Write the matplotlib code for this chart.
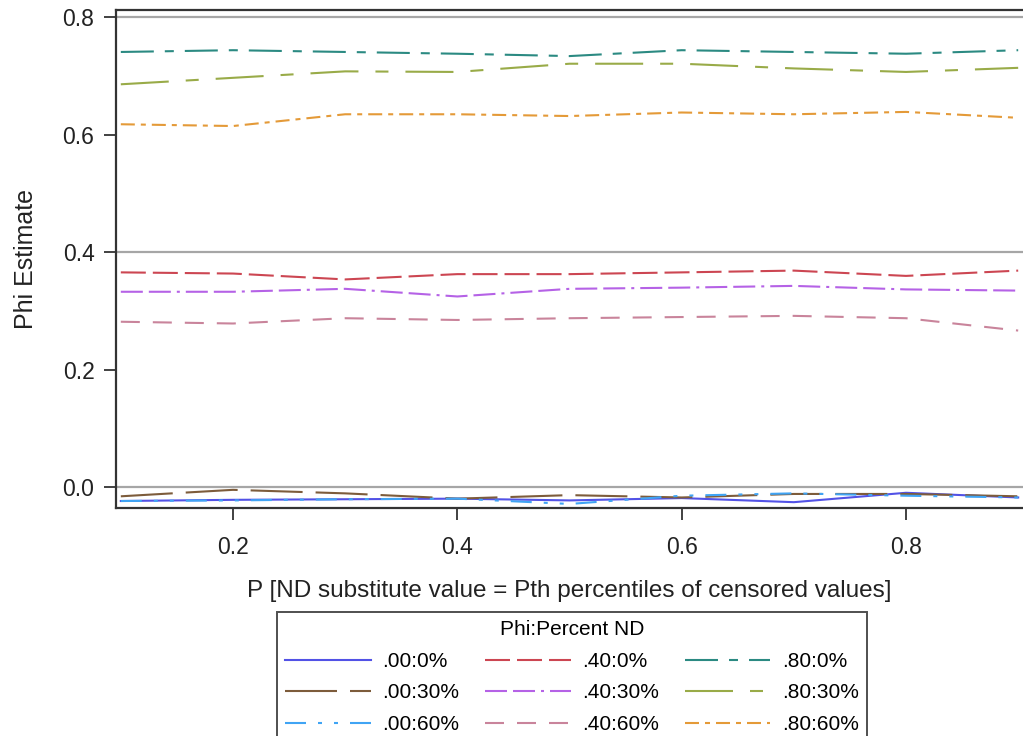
import matplotlib
matplotlib.use("Agg")
import matplotlib.pyplot as plt

plt.rcParams['font.family'] = ['Liberation Sans', 'DejaVu Sans']
plt.rcParams['lines.scale_dashes'] = False

p_values = [0.1, 0.2, 0.3, 0.4, 0.5, 0.6, 0.7, 0.8, 0.9]

phi00_nd0 = [-0.023, -0.021, -0.020, -0.019, -0.022, -0.018, -0.025, -0.009, -0.017]
phi00_nd30 = [-0.015, -0.004, -0.010, -0.019, -0.013, -0.017, -0.011, -0.011, -0.015]
phi00_nd60 = [-0.023, -0.022, -0.020, -0.019, -0.028, -0.014, -0.010, -0.014, -0.017]
phi40_nd0 = [0.366, 0.364, 0.354, 0.363, 0.363, 0.366, 0.369, 0.360, 0.369]
phi40_nd30 = [0.333, 0.333, 0.338, 0.325, 0.338, 0.340, 0.343, 0.337, 0.335]
phi40_nd60 = [0.282, 0.279, 0.288, 0.285, 0.288, 0.290, 0.292, 0.288, 0.267]
phi80_nd0 = [0.741, 0.744, 0.741, 0.738, 0.734, 0.744, 0.741, 0.738, 0.744]
phi80_nd30 = [0.686, 0.697, 0.708, 0.707, 0.721, 0.721, 0.713, 0.707, 0.714]
phi80_nd60 = [0.618, 0.615, 0.635, 0.635, 0.632, 0.638, 0.635, 0.639, 0.629]

series_labels = ['.00:0%', '.00:30%', '.00:60%', '.40:0%', '.40:30%', '.40:60%',
                 '.80:0%', '.80:30%', '.80:60%']
series_values = [phi00_nd0, phi00_nd30, phi00_nd60, phi40_nd0, phi40_nd30, phi40_nd60,
                 phi80_nd0, phi80_nd30, phi80_nd60]

y_ticks = [0.0, 0.2, 0.4, 0.6, 0.8]
x_ticks = [0.2, 0.4, 0.6, 0.8]
ref_lines = [0.0, 0.4, 0.8]

colors = ['#5252e6', '#7d5c3b', '#40a4f4', '#cc4652', '#b562e6', '#c9849b',
          '#2b8a82', '#99ab48', '#e49a38']
k = 0.72  # px -> pt
styles = [
    '-',
    (0, (52 * k, 13 * k)),
    (0, (21 * k, 12 * k, 4 * k, 12 * k, 4 * k, 12 * k)),
    (0, (25 * k, 7 * k)),
    (0, (22 * k, 6 * k, 22 * k, 6 * k, 3 * k, 6 * k)),
    (0, (19 * k, 13 * k)),
    (0, (33 * k, 11 * k, 9 * k, 11 * k)),
    (0, (48 * k, 17 * k, 13 * k, 17 * k)),
    (0, (14 * k, 6 * k, 5 * k, 6 * k)),
]

fig = plt.figure(figsize=(10.23, 7.36), dpi=100)
ax = fig.add_axes([116 / 1023, (736 - 508) / 736, 1 - 116 / 1023, 498 / 736])

for yv in ref_lines:
    ax.axhline(yv, color='#a6a6a6', lw=1.6, zorder=1)

handles = []
for lab, vals, c, ls in zip(series_labels, series_values, colors, styles):
    h, = ax.plot(p_values, vals, color=c, linestyle=ls, lw=1.5, label=lab, zorder=2)
    handles.append(h)

ax.set_xlim(0.0957, 0.9043)
ax.set_ylim(-0.0349, 0.8124)
ax.set_xticks(x_ticks)
ax.set_yticks(y_ticks)
ax.set_xticklabels([f'{v:.1f}' for v in x_ticks])
ax.set_yticklabels([f'{v:.1f}' for v in y_ticks])
ax.tick_params(direction='out', length=8.5, width=1.3, labelsize=16.5, colors='#333333',
               labelcolor='#222222', pad=7)
ax.tick_params(axis='x', pad=12)
for s in ['left', 'bottom', 'top']:
    ax.spines[s].set_color('#333333')
    ax.spines[s].set_linewidth(1.6)
ax.spines['right'].set_visible(False)

ax.set_xlabel('P [ND substitute value = Pth percentiles of censored values]',
              fontsize=17.5, color='#222222', labelpad=15)
ax.set_ylabel('Phi Estimate', fontsize=18, color='#222222', labelpad=18)

leg = fig.legend(handles=handles, labels=series_labels, loc='upper center',
                 bbox_to_anchor=(572 / 1023, 1 - 612 / 736), ncol=3,
                 title='Phi:Percent ND', fontsize=15, title_fontsize=15,
                 frameon=True, fancybox=False, edgecolor='#222222',
                 handlelength=4.1, handletextpad=0.55, columnspacing=1.25,
                 labelspacing=0.6, borderpad=0.4, borderaxespad=0)
leg.get_frame().set_linewidth(1.4)

fig.savefig('out.png', dpi=100)
